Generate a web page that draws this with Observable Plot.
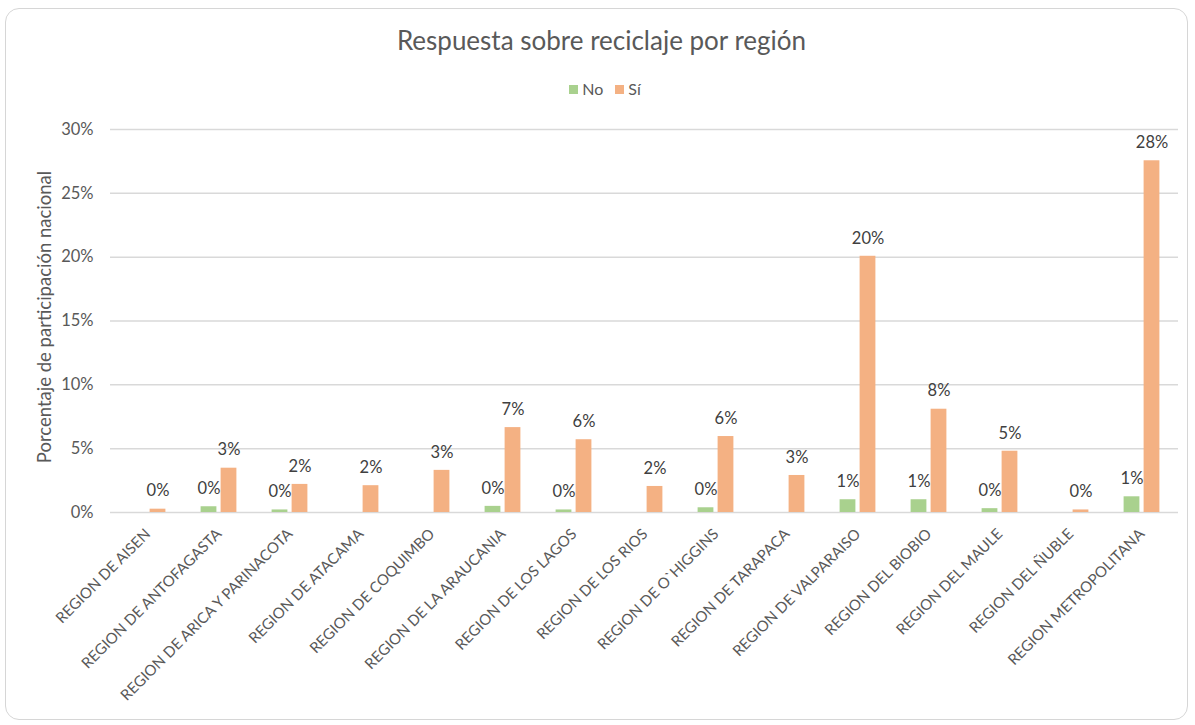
<!DOCTYPE html>
<html><head><meta charset="utf-8">
<script src="https://cdn.jsdelivr.net/npm/d3@7"></script>
<script src="https://cdn.jsdelivr.net/npm/@observablehq/plot@0.6"></script>
<style>
body{margin:0;background:#fff;font-family:Lato,sans-serif;}
#card{position:absolute;left:5px;top:8px;width:1181px;height:710px;border:1.5px solid #d6d6d6;border-radius:14px;}
#title{position:absolute;left:0;top:24px;width:1203px;text-align:center;font-size:26px;color:#595959;}
#legend{position:absolute;left:0;top:79px;width:1210px;text-align:center;font-size:16px;color:#595959;}
#legend span.sw{display:inline-block;width:9px;height:9px;margin-right:4px;vertical-align:1px;}
#legend span.it{margin:0 6px;}
#chart{position:absolute;left:0;top:0;}
</style></head>
<body>
<div id="card"></div>
<div id="chart"></div>
<div id="title">Respuesta sobre reciclaje por región</div>
<div id="legend"></div>
<script>
const regions = ["REGION DE AISEN","REGION DE ANTOFAGASTA","REGION DE ARICA Y PARINACOTA","REGION DE ATACAMA","REGION DE COQUIMBO","REGION DE LA ARAUCANIA","REGION DE LOS LAGOS","REGION DE LOS RIOS","REGION DE O`HIGGINS","REGION DE TARAPACA","REGION DE VALPARAISO","REGION DEL BIOBIO","REGION DEL MAULE","REGION DEL ÑUBLE","REGION METROPOLITANA"];
const noValues = [null, 0.45, 0.2, null, null, 0.48, 0.2, null, 0.37, null, 1.0, 1.0, 0.3, null, 1.23];
const siValues = [0.26, 3.47, 2.2, 2.1, 3.3, 6.65, 5.7, 2.04, 5.95, 2.9, 20.07, 8.09, 4.8, 0.2, 27.55];
const yTicks = [0, 5, 10, 15, 20, 25, 30];
const seriesNames = ["No", "Sí"];
const seriesColors = ["#a9d18e", "#f4b183"];
const yTitle = "Porcentaje de participación nacional";

const legend = document.getElementById("legend");
seriesNames.forEach((n, i) => {
  const it = document.createElement("span");
  it.className = "it";
  it.innerHTML = `<span class="sw" style="background:${seriesColors[i]}"></span>${n}`;
  legend.appendChild(it);
});

const noData = regions.map((r, i) => ({region: r, value: noValues[i]})).filter(d => d.value != null);
const siData = regions.map((r, i) => ({region: r, value: siValues[i]})).filter(d => d.value != null);
const inset = 27.6;
const fmt = v => Math.round(v) + "%";

const chart = Plot.plot({
  width: 1195, height: 720,
  marginTop: 129, marginBottom: 208, marginLeft: 110, marginRight: 17,
  style: {fontFamily: "Lato, sans-serif", color: "#595959", background: "transparent"},
  x: {domain: regions, padding: 0},
  y: {domain: [0, 30]},
  marks: [
    Plot.ruleY(yTicks, {stroke: "#d9d9d9", strokeWidth: 1.5}),
    Plot.barY(noData, {x: "region", y: "value", fill: seriesColors[0], dx: -10, insetLeft: inset, insetRight: inset}),
    Plot.barY(siData, {x: "region", y: "value", fill: seriesColors[1], dx: 10, insetLeft: inset, insetRight: inset}),
    Plot.text(noData, {x: "region", y: "value", text: d => fmt(d.value), dx: -10, dy: -18, fontSize: 16.5, fill: "#404040"}),
    Plot.text(siData, {x: "region", y: "value", text: d => fmt(d.value), dx: 10, dy: -18, fontSize: 16.5, fill: "#404040"}),
    Plot.axisY({ticks: yTicks, tickSize: 0, tickPadding: 17, tickFormat: d => d + "%", fontSize: 16.5, label: null}),
    Plot.axisX({tickRotate: -45, tickSize: 0, tickPadding: 19, fontSize: 15, label: null}),
    Plot.text([yTitle], {text: d => d, frameAnchor: "left", textAnchor: "middle", dx: -65, dy: -4, rotate: -90, fontSize: 18.5, fill: "#595959"})
  ]
});
document.getElementById("chart").appendChild(chart);
</script>
</body></html>
